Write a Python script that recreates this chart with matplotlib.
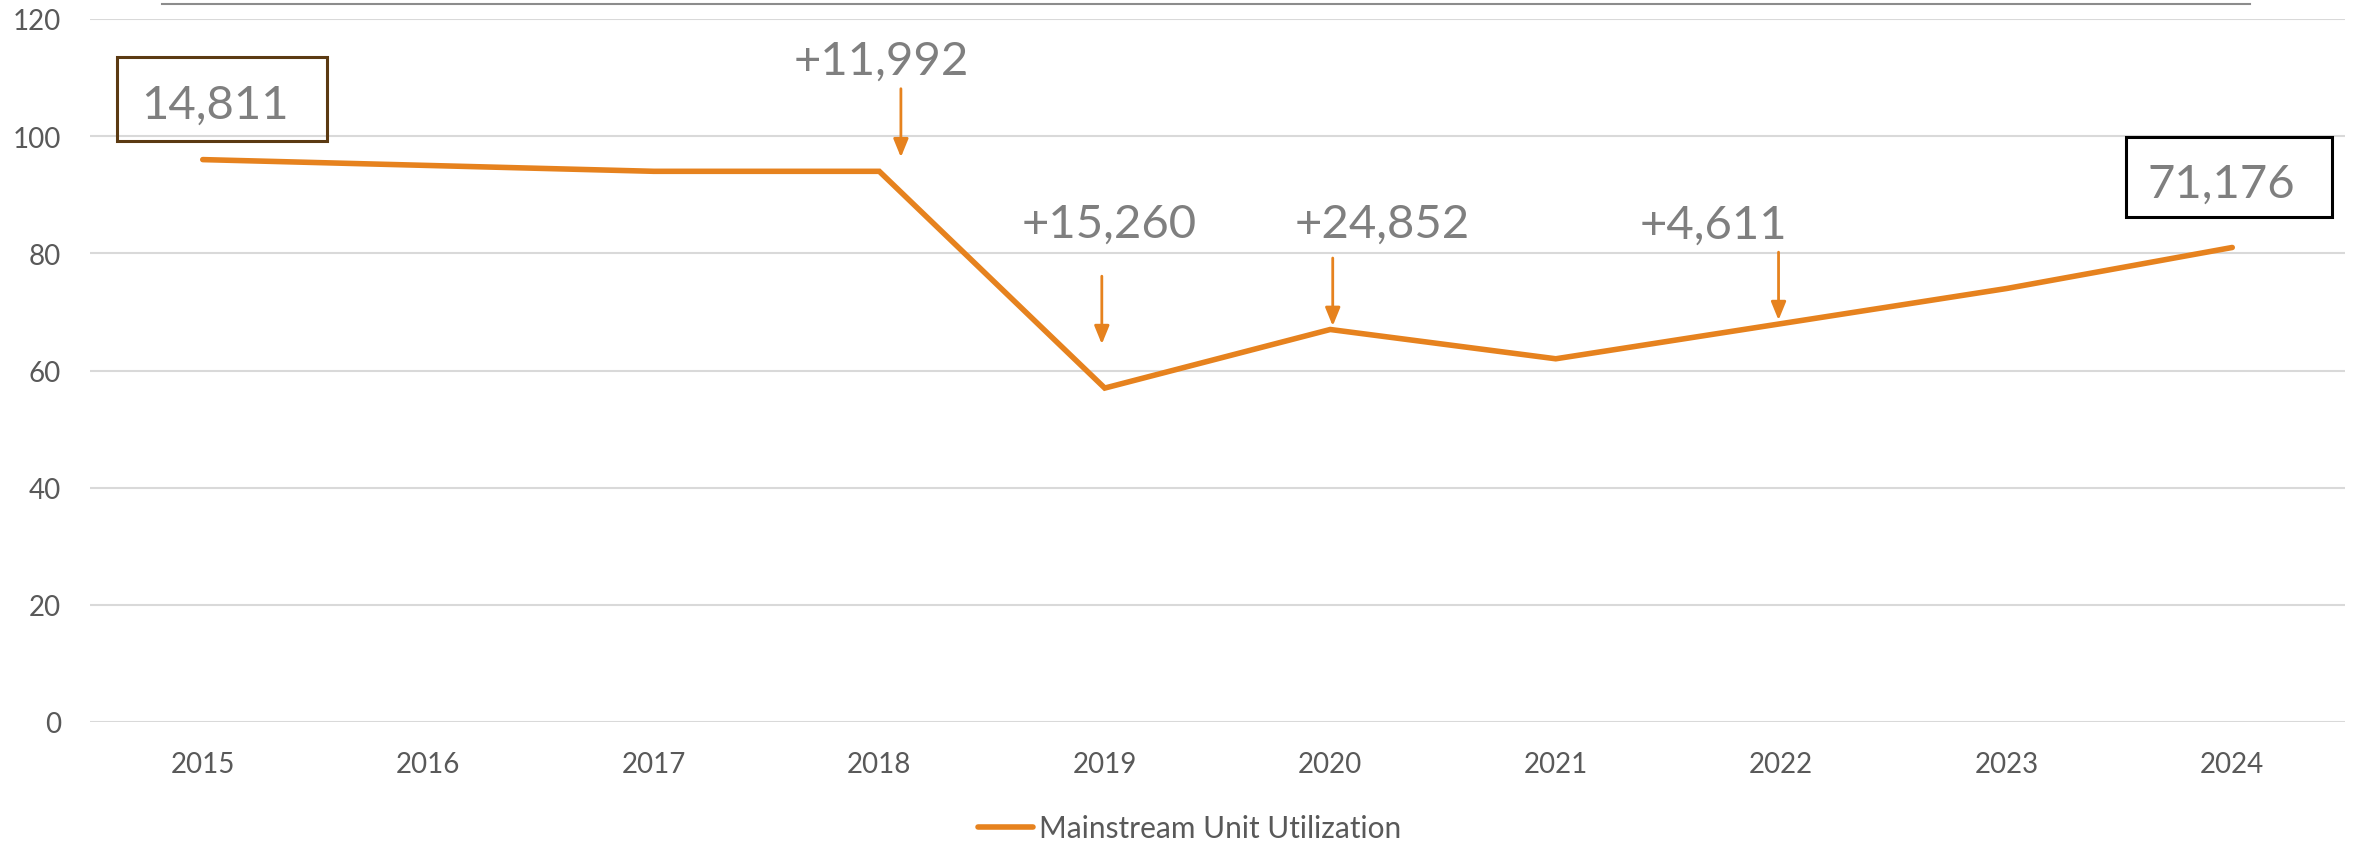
import matplotlib.pyplot as plt
from matplotlib.lines import Line2D
from matplotlib.patches import Rectangle

# data
years = ['2015', '2016', '2017', '2018', '2019', '2020', '2021', '2022', '2023', '2024']
utilization = [96, 95, 94, 94, 57, 67, 62, 68, 74, 81]
y_ticks = [0, 20, 40, 60, 80, 100, 120]

# change labels: text, text position (x, y), arrow x, arrow top, arrow tip
changes = ['+11,992', '+15,260', '+24,852', '+4,611']
change_text_xy = [(3.01, 112.8), (4.02, 85.1), (5.23, 85.1), (6.70, 84.9)]
change_arrow_x = [3.096, 3.987, 5.011, 6.988]
change_arrow_top = [108.1, 76.1, 79.2, 80.2]
change_arrow_tip = [96.4, 64.5, 67.6, 68.6]

# boxed totals
totals = ['14,811', '71,176']
total_text_xy = [(0.054, 105.3), (8.95, 91.9)]
total_box = [(-0.38, 99.2, 0.93, 14.3), (8.527, 86.2, 0.915, 13.7)]
total_edge = ['#5b3a12', '#000000']

orange = '#E6821E'
plt.rcParams['font.family'] = ['Lato', 'DejaVu Sans']

fig = plt.figure(figsize=(23.53, 8.45), dpi=100)
ax = fig.add_axes([90 / 2353, 1 - 723 / 845, 2255 / 2353, 703 / 845])

x = list(range(len(years)))
ax.plot(x, utilization, color=orange, lw=4, solid_capstyle='round',
        solid_joinstyle='miter', label='Mainstream Unit Utilization', zorder=3)

ax.set_xlim(-0.5, len(years) - 0.5)
ax.set_ylim(0, 120)
ax.set_yticks(y_ticks)
ax.set_xticks(x)
ax.set_xticklabels(years)
ax.grid(axis='y', color='#d9d9d9', lw=1.5)
ax.set_axisbelow(True)
for s in ax.spines.values():
    s.set_visible(False)
ax.tick_params(axis='both', length=0, labelsize=20, colors='#595959')
ax.tick_params(axis='y', pad=21)
ax.tick_params(axis='x', pad=21)

# annotations
for lab, (tx, ty), ax_x, top, tip in zip(changes, change_text_xy, change_arrow_x,
                                         change_arrow_top, change_arrow_tip):
    ax.text(tx, ty, lab, ha='center', va='center', fontsize=34, color='#7f7f7f')
    ax.annotate('', xy=(ax_x, tip), xytext=(ax_x, top),
                arrowprops=dict(arrowstyle='-|>,head_length=1.1,head_width=0.45',
                                color=orange, lw=2, shrinkA=0, shrinkB=0))

for lab, (tx, ty), (bx, by, bw, bh), ec in zip(totals, total_text_xy, total_box, total_edge):
    ax.text(tx, ty, lab, ha='center', va='center', fontsize=34, color='#7f7f7f')
    ax.add_patch(Rectangle((bx, by), bw, bh, fill=False, ec=ec, lw=2.2, clip_on=False, zorder=4))

# thin line across the top
fig.add_artist(Line2D([162 / 2353, 2250 / 2353], [1 - 5 / 845, 1 - 5 / 845],
                      color='#8c8c8c', lw=1.5))

leg = fig.legend(loc='center', bbox_to_anchor=(0.5057, 1 - 829 / 845), frameon=False,
                 fontsize=21.5, labelcolor='#595959', handlelength=1.85, handletextpad=0.2)

fig.savefig('out.png', dpi=100)
